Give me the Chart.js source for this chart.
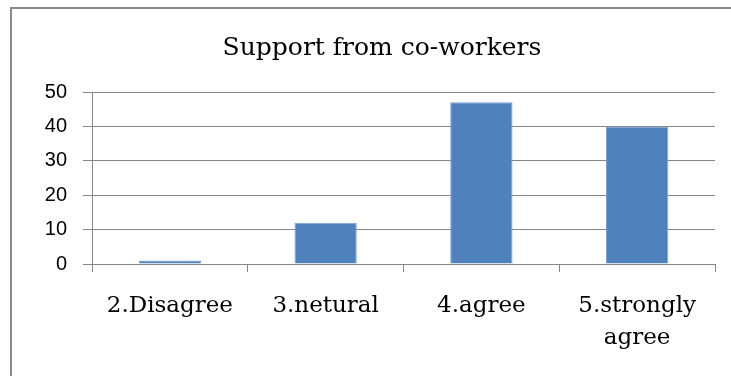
<!DOCTYPE html>
<html>
<head>
<meta charset="utf-8">
<script src="https://cdn.jsdelivr.net/npm/chart.js@4/dist/chart.umd.min.js"></script>
<style>
  html, body { margin: 0; padding: 0; background: #fff; overflow: hidden; width: 731px; height: 376px; }
  #frame { position: absolute; left: 10px; top: 7px; width: 740px; height: 400px;
           border-left: 2px solid #8a8a8a; border-top: 2px solid #8a8a8a; background: #fff; }
  canvas { display: block; }
</style>
</head>
<body>
<div id="frame"><canvas id="c" width="740" height="400"></canvas></div>
<script>
const titleText = 'Support from co-workers';
const categories = ['2.Disagree', '3.netural', '4.agree', ['5.strongly', 'agree']];
const values = [1, 12, 47, 40];
const yTicks = { min: 0, max: 50, step: 10 };

const gridColor = '#868686';
const serif = "'DejaVu Serif', 'Liberation Serif', serif";

new Chart(document.getElementById('c'), {
  type: 'bar',
  data: {
    labels: categories,
    datasets: [{
      data: values,
      backgroundColor: '#4F81BD',
      borderColor: '#7ea3d3',
      borderWidth: 1,
      categoryPercentage: 1,
      barPercentage: 0.4
    }]
  },
  options: {
    responsive: false,
    animation: false,
    devicePixelRatio: 1,
    layout: { padding: 0 },
    plugins: {
      legend: { display: false },
      tooltip: { enabled: false },
      title: {
        display: true,
        text: titleText,
        color: '#000',
        font: { family: serif, size: 25, weight: 'normal', lineHeight: 1.2 },
        padding: { top: 24, bottom: 29 }
      }
    },
    scales: {
      x: {
        grid: { display: true, offset: true, drawOnChartArea: false, drawTicks: true, tickLength: 8, color: gridColor, lineWidth: 1 },
        border: { display: true, color: gridColor, width: 1 },
        ticks: {
          color: '#000',
          font: { family: serif, size: 23, lineHeight: 1.35 },
          padding: 19,
          maxRotation: 0,
          minRotation: 0,
          autoSkip: false
        },
        afterFit(scale) { scale.height = 145; }
      },
      y: {
        min: yTicks.min,
        max: yTicks.max,
        grid: { color: gridColor, lineWidth: 1, tickLength: 9, drawTicks: true },
        border: { display: true, color: gridColor, width: 1 },
        ticks: {
          stepSize: yTicks.step,
          color: '#000',
          font: { family: "'Liberation Sans', Arial, sans-serif", size: 20 },
          padding: 16
        },
        afterFit(scale) { scale.width = 80; }
      },
      yRight: {
        position: 'right',
        display: true,
        min: yTicks.min,
        max: yTicks.max,
        grid: { display: false, drawTicks: false },
        border: { display: false },
        ticks: { display: false },
        afterFit(scale) { scale.width = 37; }
      }
    }
  }
});
</script>
</body>
</html>
